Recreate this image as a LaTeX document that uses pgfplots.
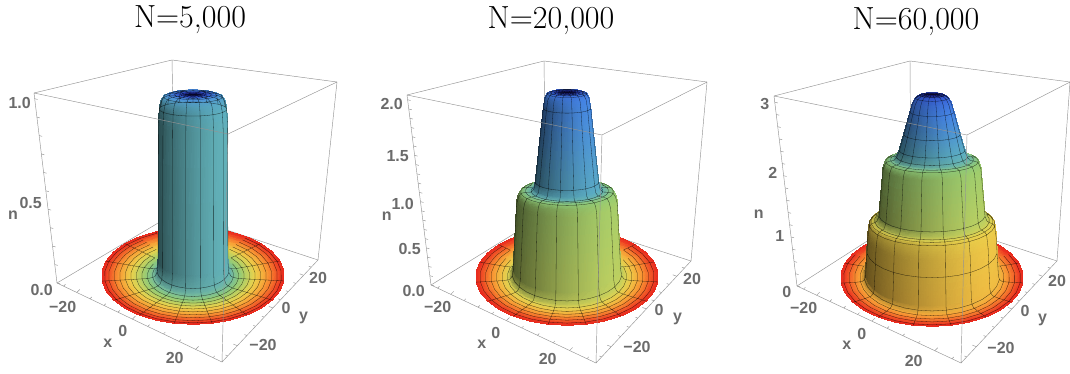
\documentclass[border=0pt]{standalone}
\usepackage{fontspec}
\usepackage{pgfplots}
\usetikzlibrary{calc}
\pgfplotsset{compat=1.18}
\newfontfamily\ticksf{Liberation Sans}

% radial colour stops r/R/G/B, the colour follows the distance from the centre
\def\stops{0/.08/.04/.40,2.4/.16/.22/.78,6.4/.27/.52/.90,9.6/.36/.68/.76,13.6/.58/.80/.45,17.8/.92/.83/.30,21.6/.98/.60/.20,26/.92/.17/.12,26.8/.90/.15/.11}

\newcommand\ringcolor[1]{%
  \gdef\lastr{0}\gdef\lastR{.08}\gdef\lastG{.04}\gdef\lastB{.40}%
  \gdef\found{0}%
  \foreach \sa/\sb/\sc/\sd in \stops {%
    \pgfmathparse{(#1<=\sa && \found==0) ? 1 : 0}%
    \ifnum\pgfmathresult=1
      \pgfmathsetmacro\frac{(#1-\lastr)/max(\sa-\lastr,0.001)}%
      \pgfmathsetmacro\ra{\lastR+\frac*(\sb-\lastR)}\xdef\cR{\ra}%
      \pgfmathsetmacro\ga{\lastG+\frac*(\sc-\lastG)}\xdef\cG{\ga}%
      \pgfmathsetmacro\ba{\lastB+\frac*(\sd-\lastB)}\xdef\cB{\ba}%
      \gdef\found{1}%
    \fi
    \xdef\lastr{\sa}\xdef\lastR{\sb}\xdef\lastG{\sc}\xdef\lastB{\sd}%
  }%
}

% pgfplots has no perspective view, so x,y are pulled in with the height #3/zmax
\newcommand\heightfactors[2]{%
  \pgfmathsetmacro\hh{#1/#2}%
  \pgfmathsetmacro\squash{1/(1+1.7*\hh)}%
  \pgfmathsetmacro\drop{26*\hh*(1-\hh)}%
}
\newcommand\warp[2]{%
  \pgfmathsetmacro\xo{#1*cos(#2)}%
  \pgfmathsetmacro\yo{#1*sin(#2)}%
  \pgfmathsetmacro\sx{3*\xo+1.725*\yo}%
  \pgfmathsetmacro\syo{-0.9125*\xo+1.5875*\yo}%
  \pgfmathsetmacro\sy{\syo*\squash-\drop}%
  \pgfmathsetmacro\xx{(1.5875*\sx-1.725*\sy)/6.337}%
  \pgfmathsetmacro\yy{(0.9125*\sx+3*\sy)/6.337}%
}
% a point on the far side that stands behind a wall of half width \v, in points
\newcommand\addlinepoint[3]{%
  \pgfmathtruncatemacro\hid{(#1>0 && \syo>0 && abs(\sx)<#1) ? 1 : 0}%
  \ifnum\hid=1 \xdef\meshlines{\meshlines (nan,nan,nan)}%
  \else \xdef\meshlines{\meshlines (\xx,\yy,#2)}\fi
}

% profile rows r/n/w/v/m: r radius, n height, w how much of a wall it is,
% v half width of what hides its far side (999 far side hidden), m 1 if a mesh ring lies there
\newcommand\revolve[2]{%
  \gdef\coords{}\gdef\meshlines{}%
  \foreach \r/\n/\w/\v/\m in #1 {%
    \ringcolor{\r}\heightfactors{\n}{#2}%
    \foreach \t in {0,12,...,360} {%
      \warp{\r}{\t}%
      \pgfmathsetmacro\li{(1-\w)+\w*(0.68+0.32*cos(\t-5))}%
      \pgfmathsetmacro\pr{min(1,\cR*\li)}%
      \pgfmathsetmacro\pg{min(1,\cG*\li)}%
      \pgfmathsetmacro\pb{min(1,\cB*\li)}%
      \xdef\coords{\coords (\xx,\yy,\n) [rgb=\pr,\pg,\pb]}%
      \ifnum\m=1 \addlinepoint{\v}{\n}{}\fi
    }%
    \ifnum\m=1 \xdef\meshlines{\meshlines (nan,nan,nan)}\fi
  }%
  \foreach \t in {0,24,...,336} {%
    \foreach \r/\n/\w/\v/\m in #1 {%
      \heightfactors{\n}{#2}\warp{\r}{\t}\addlinepoint{\v}{\n}{}%
    }%
    \xdef\meshlines{\meshlines (nan,nan,nan)}%
  }%
  \edef\doplot{\noexpand\addplot3[surf,shader=interp,z buffer=sort,mesh/cols=31,
    mesh/color input=explicit,point meta=explicit symbolic] coordinates {\coords};
    \noexpand\addplot3[black,opacity=0.7,line width=0.3pt,mark=none,unbounded coords=jump] coordinates {\meshlines};}%
  \doplot
}

\def\profileA{0/1/0/0/0,1.8/1/0/0/1,3.5/1/0/0/1,5.3/1/0/0/1,7/1/0/0/1,8.5/.99/.1/0/1,9.3/.97/.5/0/0,9.8/.93/.9/0/1,10.05/.85/1/999/0,10.15/.1/1/999/0,10.4/.035/.6/999/1,11/.012/.2/36/0,11.7/.005/0/36/1,13.2/0/0/36/1,14.8/0/0/36/1,16.4/0/0/36/1,18/0/0/36/1,19.6/0/0/36/1,21.2/0/0/36/1,22.8/0/0/36/1,24.4/0/0/36/1,25.6/0/0/36/1,26.4/0/0/36/0}
\def\profileB{0/2/0/0/0,1.2/2/0/0/1,2.4/2/0/0/1,3.6/2/0/0/1,4.8/2/0/0/1,5.7/1.99/.2/0/1,6.4/1.95/.7/0/0,6.9/1.85/1/999/1,9.2/1.1/1/999/1,9.6/1.03/.6/999/0,10.4/1/.1/32/1,12/1/0/32/1,13.4/.99/.2/32/1,14.1/.95/.8/32/0,14.6/.88/1/999/0,15.6/.12/1/999/0,15.9/.05/.7/999/1,16.5/.015/.3/54/0,17.2/.005/0/54/1,18.8/0/0/54/1,20.4/0/0/54/1,22/0/0/54/1,23.6/0/0/54/1,25.2/0/0/54/1,26.4/0/0/54/0}
\def\profileC{0/2.97/0/0/0,1.2/2.97/0/0/1,2.4/2.96/.1/0/1,3.6/2.96/.2/0/1,4.8/2.92/.4/0/1,5.6/2.85/.6/999/0,6.4/2.72/.8/999/1,7.2/2.57/.9/999/0,8.2/2.39/.9/999/1,9.5/2.15/.9/999/1,10.3/2.05/.7/999/1,11/2.01/.3/36/0,12/2/0/36/1,13.4/1.98/.3/36/1,14.2/1.88/.9/999/0,15.4/1.12/1/999/1,16/1.04/.5/999/0,16.6/1.02/.3/52/1,17.6/1/.2/52/1,18.2/.96/.7/52/1,18.7/.75/1/999/0,18.9/.5/1/999/1,19.3/.1/1/999/0,19.6/.04/.6/999/1,20.2/.012/.2/66/0,20.8/.005/0/66/1,22.4/0/0/66/1,24/0/0/66/1,25.6/0/0/66/1,26.4/0/0/66/0}

% tick label moved by dx,dy from its tick, the box itself stays empty so the anchor is the tick
\newcommand\off[3]{\raisebox{\dimexpr#2pt-5.7pt\relax}[0pt][0pt]{\makebox[0pt]{\hspace{\dimexpr#1pt*2\relax}#3}}}

\pgfplotsset{
  cake/.style={
    x={(3pt,-0.9125pt)},y={(1.725pt,1.5875pt)},
    xmin=-28,xmax=28,ymin=-28,ymax=28,zmin=0,
    anchor=origin,clip=false,
    axis line style={draw=none},
    tick style={draw=none},
    major tick length=0pt,minor tick length=0pt,tick align=inside,
    xtick={-20,0,20},ytick={-20,0,20},
    tick label style={font=\ticksf\bfseries\fontsize{16}{16}\selectfont,text=black!58,anchor=center,inner sep=0pt},
    label style={font=\ticksf\bfseries\fontsize{16}{16}\selectfont,text=black!58,anchor=center,inner sep=0pt},
    /pgf/number format/assume math mode=true,
    xlabel={x},ylabel={y},zlabel={n},
    xlabel style={at={(axis cs:0,-28,0)},xshift=-37pt,yshift=-23pt},
    ylabel style={at={(axis cs:28,0,0)},xshift=26.5pt,yshift=-16pt},
    title style={font=\fontsize{32}{36}\selectfont,text=black,at={(axis cs:0,0,0)},anchor=base,yshift=242pt},
  }
}

% the box as the reference draws it, in perspective: back edges go under the surface
\newcommand\boxback[8]{%
  \draw[boxline] (#1)--(#2)--(#3) (#2)--(#8) (#8)--(#5) (#8)--(#7);
}
\newcommand\boxfront[8]{%
  \draw[boxline] (#1)--(#4)--(#3) (#4)--(#6) (#5)--(#6)--(#7)--(#3) (#1)--(#5);
  % ticks on the x, y and n edges
  \foreach \f/\l in {.04/3,.12/5,.20/3,.285/3,.37/3,.457/5,.55/3,.645/3,.74/3,.84/5,.945/3}
    \draw[boxline] ($(#5)!\f!(#6)$)--++(0.6*\l pt,0.6*\l pt);
  \foreach \f/\l in {.06/3,.16/5,.26/3,.35/3,.44/3,.53/5,.61/3,.69/3,.77/3,.85/5,.93/3}
    \draw[boxline] ($(#6)!\f!(#7)$)--++(-0.8*\l pt,0.3*\l pt);
}
\newcommand\zticks[4]{% bottom, top, last tick number, step as a fraction of the edge
  \foreach \k in {0,...,#3}
    \draw[boxline] ($(#1)!{\k*#4}!(#2)$)--++(3pt,-0.8pt);
}
\tikzset{boxline/.style={draw=black!42,line width=0.45pt}}

\begin{document}
\begin{tikzpicture}
\path[use as bounding box] (0pt,0pt) rectangle (1070pt,374pt);

\boxback{34pt,281pt}{172pt,314pt}{337pt,292pt}{228pt,240pt}{57pt,91pt}{222pt,12pt}{318pt,114pt}{175pt,161pt}
\begin{axis}[cake,at={(193pt,98pt)},z={(0pt,182pt)},zmax=1.03,
    ztick={0,0.5,1},
    xticklabels={\off{-22}{-5}{−20},\off{-22}{-10}{0},\off{-30}{-19}{20}},
    yticklabels={\off{20.5}{-12}{−20},\off{9}{-6.5}{0},\off{6.5}{-8}{20}},
    zticklabels={\off{-19}{5}{0.0},\off{-30}{1}{0.5},\off{-41}{10}{1.0}},
    zlabel style={rotate=-90,at={(axis cs:-28,-28,0.5)},xshift=-47.7pt,yshift=-11pt},
    title={N=5,000},title style={xshift=-3pt}]
\revolve{\profileA}{1.03}
\end{axis}
\boxfront{34pt,281pt}{172pt,314pt}{337pt,292pt}{228pt,240pt}{57pt,91pt}{222pt,12pt}{318pt,114pt}{175pt,161pt}
\zticks{57pt,91pt}{34pt,281pt}{10}{0.097}

\boxback{407pt,279pt}{544pt,313pt}{707pt,292pt}{602pt,239pt}{431pt,89pt}{596pt,11pt}{691pt,113pt}{546pt,160pt}
\begin{axis}[cake,at={(567pt,97pt)},z={(0pt,92.5pt)},zmax=2.05,
    ztick={0,0.5,1,1.5,2},
    xticklabels={\off{-21}{-4}{−20},\off{-23}{-11}{0},\off{-31}{-19}{20}},
    yticklabels={\off{20.5}{-13}{−20},\off{8}{-7.5}{0},\off{6.5}{-8}{20}},
    zticklabels={\off{-21}{5}{0.0},\off{-25}{1}{0.5},\off{-32}{0}{1.0},\off{-37}{1}{1.5},\off{-43}{7}{2.0}},
    zlabel style={rotate=-90,at={(axis cs:-28,-28,1)},xshift=-48pt,yshift=-12.5pt},
    title={N=20,000},title style={xshift=-16pt}]
\revolve{\profileB}{2.05}
\end{axis}
\boxfront{407pt,279pt}{544pt,313pt}{707pt,292pt}{602pt,239pt}{431pt,89pt}{596pt,11pt}{691pt,113pt}{546pt,160pt}
\zticks{431pt,89pt}{407pt,279pt}{20}{0.04875}

\boxback{774pt,278pt}{910pt,313pt}{1070pt,292pt}{967pt,239pt}{797pt,88pt}{961pt,11pt}{1057pt,113pt}{911pt,161pt}
\begin{axis}[cake,at={(932pt,96pt)},z={(0pt,62pt)},zmax=3.05,
    ztick={0,1,2,3},
    xticklabels={\off{-20}{-4}{−20},\off{-22}{-11}{0},\off{-30}{-20}{20}},
    yticklabels={\off{19.5}{-13}{−20},\off{9}{-7.5}{0},\off{6.5}{-9}{20}},
    zticklabels={\off{-13}{5}{0},\off{-20}{-1}{1},\off{-27}{0}{2},\off{-35}{7}{3}},
    zlabel style={rotate=-90,at={(axis cs:-28,-28,1.5)},xshift=-41pt,yshift=-10pt},
    title={N=60,000},title style={xshift=-16pt}]
\revolve{\profileC}{3.05}
\end{axis}
\boxfront{774pt,278pt}{910pt,313pt}{1070pt,292pt}{967pt,239pt}{797pt,88pt}{961pt,11pt}{1057pt,113pt}{911pt,161pt}
\zticks{797pt,88pt}{774pt,278pt}{15}{0.0645}
\end{tikzpicture}
\end{document}
